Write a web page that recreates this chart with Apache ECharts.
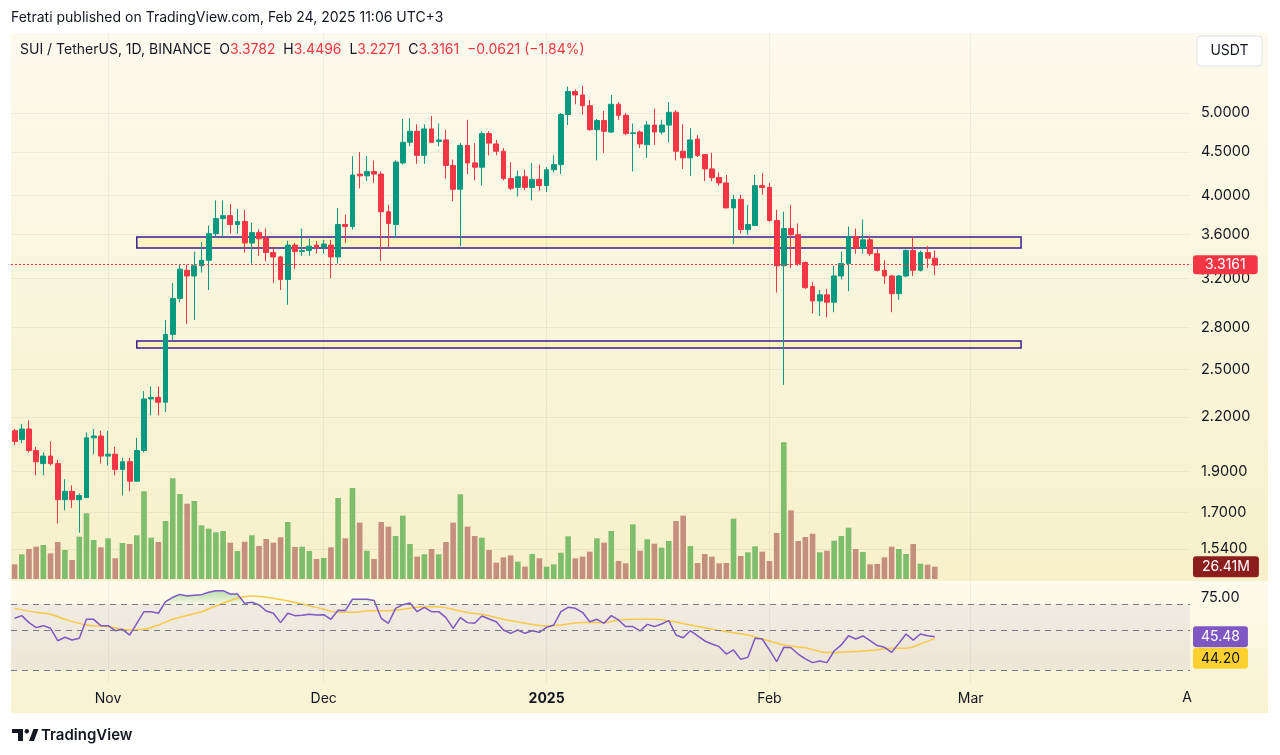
<!DOCTYPE html>
<html>
<head>
<meta charset="utf-8">
<title>SUI / TetherUS, 1D, BINANCE</title>
<script src="https://cdn.jsdelivr.net/npm/echarts@6/dist/echarts.min.js"></script>
<style>
html,body{margin:0;padding:0;background:#fff;}
#chart{width:1280px;height:755px;}
</style>
</head>
<body>
<div id="chart"></div>
<script>
// daily candles, 2024-10-19 .. 2025-02-24 (axis runs on to 2025-03-31)
var firstDay = '2024-10-19';
var dayCount = 164;

var opens = [2.12,2.07,2.13,2.01,1.94,1.98,1.94,1.76,1.80,1.76,
    1.77,2.08,2.09,1.98,1.99,1.91,1.95,1.85,2.01,2.31,
    2.32,2.29,2.75,3.03,3.27,3.22,3.31,3.36,3.61,3.76,
    3.79,3.70,3.73,3.52,3.62,3.57,3.43,3.39,3.19,3.50,
    3.44,3.45,3.50,3.48,3.50,3.39,3.70,3.68,4.24,4.22,
    4.27,4.24,3.83,3.70,4.37,4.62,4.76,4.46,4.79,4.63,
    4.65,4.34,4.07,4.58,4.37,4.32,4.73,4.60,4.51,4.19,
    4.09,4.21,4.09,4.18,4.11,4.29,4.35,4.98,5.30,5.25,
    5.10,4.78,4.90,4.75,5.12,4.97,4.73,4.75,4.59,4.84,
    4.75,4.84,5.01,4.51,4.43,4.66,4.47,4.30,4.20,4.14,
    3.87,3.96,3.65,3.69,4.11,4.09,3.74,3.31,3.66,3.60,
    3.34,3.13,3.01,3.06,3.00,3.22,3.33,3.58,3.47,3.55,
    3.42,3.27,3.22,3.07,3.22,3.45,3.27,3.43,3.3782];
var highs = [2.13,2.16,2.18,2.03,2.00,2.06,1.96,1.86,1.83,1.79,
    2.11,2.13,2.12,2.12,2.03,1.97,1.97,2.08,2.36,2.39,
    2.39,2.86,3.16,3.32,3.32,3.44,3.53,3.69,3.95,3.95,
    3.91,3.86,3.85,3.72,3.65,3.66,3.48,3.40,3.54,3.52,
    3.66,3.56,3.54,3.55,3.55,3.87,3.80,4.45,4.50,4.45,
    4.40,4.27,3.90,4.40,4.92,4.93,4.85,4.85,4.96,4.86,
    4.78,4.41,4.61,4.91,4.61,4.76,4.76,4.65,4.55,4.38,
    4.28,4.29,4.37,4.35,4.32,4.46,5.00,5.37,5.33,5.38,
    5.18,4.92,5.03,5.25,5.15,5.00,4.86,4.77,4.89,5.06,
    4.91,5.15,5.04,4.85,4.80,4.71,4.47,4.49,4.26,4.23,
    4.01,4.01,3.90,4.23,4.25,4.14,3.85,3.83,3.90,3.71,
    3.35,3.17,3.10,3.11,3.31,3.44,3.68,3.66,3.75,3.59,
    3.46,3.36,3.23,3.23,3.46,3.58,3.45,3.49,3.4496];
var lows = [2.04,2.05,2.00,1.88,1.88,1.93,1.65,1.71,1.72,1.61,
    1.77,1.99,1.94,1.93,1.88,1.78,1.80,1.85,2.00,2.21,
    2.21,2.23,2.71,3.00,2.83,2.86,3.25,3.10,3.58,3.58,
    3.61,3.61,3.43,3.33,3.40,3.35,3.16,3.10,2.98,3.28,
    3.40,3.40,3.42,3.42,3.20,3.33,3.52,3.65,4.08,4.16,
    4.14,3.35,3.48,3.57,4.35,4.57,4.36,4.36,4.61,4.57,
    4.19,3.94,3.49,4.24,4.17,4.11,4.46,4.46,4.17,4.06,
    3.99,4.06,3.95,4.05,4.04,4.26,4.24,4.84,5.12,4.98,
    4.77,4.40,4.49,4.74,4.91,4.71,4.27,4.55,4.43,4.59,
    4.72,4.62,4.40,4.30,4.22,4.44,4.16,4.16,4.11,3.87,
    3.51,3.61,3.60,3.69,4.01,3.73,3.08,2.40,3.29,3.31,
    3.11,2.91,2.89,2.88,2.92,3.19,3.09,3.42,3.42,3.40,
    3.26,3.15,2.92,3.02,3.21,3.22,3.26,3.29,3.2271];
var closes = [2.06,2.13,2.01,1.95,1.98,1.94,1.76,1.80,1.76,1.78,
    2.08,2.09,1.98,1.99,1.91,1.95,1.85,2.01,2.31,2.32,
    2.29,2.75,3.03,3.28,3.22,3.31,3.36,3.61,3.76,3.79,
    3.70,3.73,3.52,3.62,3.56,3.43,3.39,3.19,3.50,3.44,
    3.45,3.49,3.48,3.51,3.39,3.70,3.68,4.23,4.22,4.27,
    4.24,3.83,3.71,4.38,4.62,4.76,4.46,4.79,4.62,4.65,
    4.34,4.07,4.58,4.37,4.32,4.73,4.61,4.51,4.19,4.08,
    4.21,4.09,4.18,4.11,4.29,4.35,4.98,5.30,5.25,5.10,
    4.78,4.90,4.76,5.12,4.97,4.73,4.74,4.60,4.84,4.75,
    4.84,5.01,4.51,4.43,4.65,4.46,4.30,4.20,4.14,3.87,
    3.96,3.65,3.70,4.11,4.09,3.74,3.31,3.66,3.60,3.33,
    3.12,3.01,3.06,3.00,3.22,3.33,3.58,3.47,3.55,3.42,
    3.27,3.22,3.07,3.22,3.45,3.27,3.43,3.3782,3.3161];
// volume in millions
var volumes = [31.5,53.0,64.4,69.4,73.0,55.1,79.4,62.3,40.8,90.9,
    141.0,83.7,68.0,87.3,44.4,77.3,75.1,93.8,188.2,88.7,
    79.4,124.5,216.1,182.5,161.7,167.5,115.2,108.1,100.2,103.1,
    78.0,60.1,80.2,93.8,70.9,85.9,78.0,89.5,122.4,68.7,
    69.4,60.1,42.9,45.1,68.0,173.9,87.3,195.4,121.0,60.8,
    42.9,122.4,112.4,92.3,136.0,75.1,48.0,53.0,64.4,53.0,
    79.4,121.0,181.8,112.4,92.3,88.7,62.3,35.1,46.5,50.8,
    37.2,26.5,53.7,44.4,26.5,31.5,56.5,91.6,44.4,48.0,
    58.7,87.3,78.0,103.1,38.6,33.6,117.4,60.8,85.2,75.9,
    67.3,81.6,124.5,136.0,70.9,34.4,53.7,48.0,33.6,34.4,
    129.5,49.4,57.3,70.1,58.7,38.6,98.8,293.4,147.4,81.6,
    90.2,97.3,57.3,60.8,82.3,92.3,110.2,64.4,58.0,31.5,
    32.2,46.5,69.4,64.4,53.7,75.1,32.9,30.8,26.41];
var rsi = [59.4,61.4,56.1,52.3,53.8,51.8,42.4,45.0,42.9,44.2,
    58.6,58.6,53.8,53.8,50.0,51.0,46.7,55.6,64.4,64.4,
    63.2,72.0,75.3,77.5,76.3,76.8,77.3,79.1,80.3,80.3,
    77.8,77.8,70.7,71.5,69.5,64.9,63.2,56.1,63.2,61.4,
    61.6,62.4,61.9,62.1,58.6,65.4,65.2,73.8,73.8,73.8,
    72.8,59.4,55.6,66.9,69.7,71.0,64.4,67.7,64.4,64.4,
    59.9,51.8,59.9,56.1,55.6,61.1,58.8,56.8,50.5,48.0,
    50.5,48.0,50.0,48.8,52.5,54.3,64.4,67.7,66.9,63.9,
    56.8,58.6,55.6,61.4,58.1,53.1,53.1,49.8,54.8,53.1,
    55.1,57.6,46.7,44.7,50.0,46.0,42.2,39.9,37.9,32.3,
    35.4,28.3,29.8,44.2,43.7,35.4,26.5,37.4,37.1,32.3,
    28.6,25.8,27.0,25.8,34.6,39.2,46.2,43.7,46.0,42.4,
    38.7,37.4,33.6,40.4,47.5,42.9,47.5,46.2,45.48];
// RSI moving average, read at points along the curve: [day index, value]
var rsiMa = [[0,66.9],[3,63.9],[5,62.4],[7,58.6],[10,54.3],[13,53.1],[16,50.5],[18,51.0],
    [20,54.3],[22,58.6],[26,64.4],[28,68.7],[31,74.5],[33,76.3],[36,74.5],[40,70.2],
    [43,66.2],[45,63.9],[47,63.9],[49,64.9],[52,65.2],[54,66.2],[57,68.2],[59,68.2],
    [60,67.4],[63,63.7],[65,62.4],[68,58.6],[71,55.6],[74,53.6],[76,54.3],[79,56.1],
    [82,56.1],[84,58.1],[86,58.6],[89,58.6],[91,57.6],[94,54.3],[96,52.3],[99,49.3],
    [102,46.7],[105,42.2],[107,39.2],[110,37.1],[113,33.4],[115,33.6],[119,34.9],
    [122,36.6],[124,36.6],[126,39.9],[128,44.20]];

var priceTicks = [1.54,1.7,1.9,2.2,2.5,2.8,3.2,3.6,4.0,4.5,5.0];
var rsiTicks = [75];
var rsiBands = [70,50,20];
var monthLabels = {'2024-11-01':'Nov','2024-12-01':'Dec','2025-01-01':'2025','2025-02-01':'Feb','2025-03-01':'Mar'};
// the two drawn zones: [top, bottom] price, [from, to] day
var zoneHigh = [3.578,3.473];
var zoneLow = [2.701,2.651];
var zoneDays = ['2024-11-05','2025-03-08'];
var lastVolume = 26.41;

(function(window){
    function buildDays(start, n){
        var out = [], d = new Date(start + 'T00:00:00Z');
        for(var i = 0; i < n; i++){
            out.push(d.toISOString().slice(0,10));
            d.setUTCDate(d.getUTCDate() + 1);
        }
        return out;
    }
    function grad(c1, c2){
        return new echarts.graphic.LinearGradient(0,0,0,1,[{offset:0,color:c1},{offset:1,color:c2}]);
    }
    // invisible line that only carries a value badge on the right scale
    function badge(value, text, bg, fg, pad, shiftDown){
        var lbl = {show:true, position:'end', distance:3, fontSize:14, fontFamily:font};
        if(shiftDown){
            lbl.padding = [shiftDown * 2, 0, 0, 0];
            lbl.formatter = '{b|' + text + '}';
            lbl.rich = {b:{backgroundColor:bg, color:fg, padding:pad, borderRadius:3, fontSize:14, fontFamily:font}};
        }else{
            lbl.formatter = text;
            lbl.backgroundColor = bg;
            lbl.color = fg;
            lbl.padding = pad;
            lbl.borderRadius = 3;
        }
        return {yAxis:value, lineStyle:{color:'rgba(0,0,0,0)', width:0}, label:lbl};
    }

    var days = buildDays(firstDay, dayCount),
        upColor = '#089981',
        downColor = '#f23645',
        textColor = '#131722',
        font = 'Inter, "Noto Sans", sans-serif',
        n = closes.length,
        candles = [], volBars = [], obBase = [], obFill = [];

    for(var i = 0; i < n; i++){
        candles.push([opens[i], closes[i], lows[i], highs[i]]);
        volBars.push({value: volumes[i], itemStyle:{color: closes[i] >= opens[i] ? '#7dbd6c' : '#c58f7e'}});
        obBase.push(70);
        obFill.push(Math.max(0, rsi[i] - 70));
    }

    var last = n - 1,
        chg = closes[last] - closes[last-1],
        pct = chg / closes[last-1] * 100,
        sign = function(v){ return (v < 0 ? '\u2212' : '+') + Math.abs(v); };
    var legendText = 'SUI / TetherUS, 1D, BINANCE  {k|O}{v|' + opens[last].toFixed(4) + '}  {k|H}{v|' + highs[last].toFixed(4) +
        '}  {k|L}{v|' + lows[last].toFixed(4) + '}  {k|C}{v|' + closes[last].toFixed(4) + '}  {v|' +
        sign(+chg.toFixed(4)) + ' (' + sign(+pct.toFixed(2)) + '%)}';
    var maLast = rsiMa[rsiMa.length-1][1];

    // vertical month lines
    var monthLines = Object.keys(monthLabels).map(function(d){
        return {xAxis: d, lineStyle:{color:'rgba(42,46,57,0.06)', type:'solid', width:1}, label:{show:false}};
    });

    var option = {
        animation: false,
        backgroundColor: '#ffffff',
        textStyle: {fontFamily: font},
        title: [{
            text: 'Fetrati published on TradingView.com, Feb 24, 2025 11:06 UTC+3',
            left: 11, top: 11, padding: 0,
            textStyle: {fontSize: 14, fontWeight: 'normal', color: textColor, fontFamily: font}
        },{
            text: legendText,
            left: 20, top: 43, padding: 0,
            textStyle: {fontSize: 14, fontWeight: 'normal', color: textColor, fontFamily: font,
                rich: {k:{fontSize:14, color:textColor, fontFamily:font}, v:{fontSize:14, color:downColor, fontFamily:font}}}
        }],
        graphic: [
            {type:'rect', z:-10, silent:true, shape:{x:11, y:33, width:1257, height:548}, style:{fill: grad('#fcfaed','#f7f0ca')}},
            {type:'rect', z:-10, silent:true, shape:{x:11, y:581, width:1257, height:132}, style:{fill: grad('#fdfbec','#f8f2d0')}},
            {type:'rect', z:10, shape:{x:1197, y:36, width:65, height:30, r:4}, style:{fill:'#ffffff', stroke:'#e0e3eb', lineWidth:1}},
            {type:'text', z:11, style:{x:1229.5, y:51, text:'USDT', fill:textColor, font:'14px ' + font, textAlign:'center', textVerticalAlign:'middle'}},
            {type:'text', z:11, style:{x:1187, y:698, text:'A', fill:textColor, font:'14px ' + font, textAlign:'center', textVerticalAlign:'middle'}},
            // TradingView logo
            {type:'polygon', shape:{points:[[12,729],[23,729],[23,741],[18,741],[18,733],[12,733]]}, style:{fill:textColor}},
            {type:'circle', shape:{cx:26.8, cy:731.2, r:2.2}, style:{fill:textColor}},
            {type:'polygon', shape:{points:[[29,741],[33.5,729],[38.5,729],[34,741]]}, style:{fill:textColor}},
            {type:'text', style:{x:41, y:735, text:'TradingView', fill:textColor, font:'600 15px ' + font, textVerticalAlign:'middle'}}
        ],
        grid: [
            {left:11, right:90, top:33, height:547},
            {left:11, right:90, top:279, height:300},
            {left:11, right:90, top:580.5, height:103}
        ],
        xAxis: [
            {type:'category', gridIndex:0, data:days, show:false, boundaryGap:true},
            {type:'category', gridIndex:1, data:days, show:false, boundaryGap:true},
            {type:'category', gridIndex:2, data:days, boundaryGap:true,
                axisLine:{show:false}, axisTick:{show:false}, splitLine:{show:false},
                axisLabel:{
                    interval: function(idx, v){ return monthLabels.hasOwnProperty(v); },
                    formatter: function(v){ return v === '2025-01-01' ? '{y|2025}' : monthLabels[v]; },
                    color:textColor, fontSize:14, margin:8, fontFamily:font,
                    rich:{y:{fontWeight:'bold', fontSize:14, color:textColor, fontFamily:font}}
                }}
        ],
        yAxis: [
            {type:'log', logBase:10, gridIndex:0, position:'right', min:1.4168, max:6.2065,
                axisLine:{show:false},
                axisTick:{show:false, customValues:priceTicks},
                axisLabel:{customValues:priceTicks, formatter:function(v){ return (+v).toFixed(4); },
                    color:textColor, fontSize:14.5, margin:11, fontFamily:font},
                splitLine:{show:true, lineStyle:{color:'rgba(42,46,57,0.06)'}}},
            {type:'value', gridIndex:1, min:0, max:644, show:false, splitLine:{show:false}},
            {type:'value', gridIndex:2, position:'right', min:10, max:88,
                axisLine:{show:false},
                axisTick:{show:false, customValues:rsiTicks},
                axisLabel:{customValues:rsiTicks, formatter:function(v){ return (+v).toFixed(2); },
                    color:textColor, fontSize:14.5, margin:11, fontFamily:font},
                splitLine:{show:false}}
        ],
        series: [{
            name:'Volume', type:'bar', xAxisIndex:1, yAxisIndex:1, z:1,
            barWidth:'78%', data:volBars,
            markLine:{
                silent:true, symbol:['none','none'],
                data:[badge(lastVolume, lastVolume.toFixed(2) + 'M', '#8c1d1d', '#ffffff', [4,9,3,9])]
            }
        },{
            name:'SUIUSDT', type:'candlestick', xAxisIndex:0, yAxisIndex:0, z:3,
            barWidth:'74%', data:candles,
            itemStyle:{color:upColor, color0:downColor, borderColor:upColor, borderColor0:downColor, borderWidth:1},
            markArea:{
                silent:true,
                itemStyle:{color:'rgba(255,236,80,0.22)', borderColor:'#3a1d96', borderWidth:1.5},
                data:[
                    [{xAxis:zoneDays[0], yAxis:zoneHigh[0]}, {xAxis:zoneDays[1], yAxis:zoneHigh[1]}],
                    [{xAxis:zoneDays[0], yAxis:zoneLow[0]}, {xAxis:zoneDays[1], yAxis:zoneLow[1]}]
                ]
            },
            markLine:{
                silent:true, symbol:['none','none'],
                data:[{yAxis:closes[last], lineStyle:{color:downColor, type:[2,2], width:1},
                    label:{show:true, position:'end', distance:3, formatter:closes[last].toFixed(4),
                        backgroundColor:downColor, color:'#ffffff', padding:[3,12,2,12], borderRadius:3, fontSize:14, fontFamily:font}}
                ].concat(monthLines)
            }
        },{
            name:'RSI', type:'line', xAxisIndex:2, yAxisIndex:2, z:4,
            data:rsi, symbol:'none', lineStyle:{color:'#7e57c2', width:1.5}, itemStyle:{color:'#7e57c2'},
            markArea:{silent:true, itemStyle:{color:'rgba(126,87,194,0.09)'},
                data:[[{yAxis:rsiBands[2]}, {yAxis:rsiBands[0]}]]},
            markLine:{
                silent:true, symbol:['none','none'],
                data: rsiBands.map(function(b){
                    return {yAxis:b, lineStyle:{color:'#787b86', type:[6,5], width:1}, label:{show:false}};
                }).concat(monthLines).concat([badge(rsi[last], rsi[last].toFixed(2), '#7e57c2', '#ffffff', [4,8,3,8])])
            }
        },{
            name:'RSI MA', type:'line', xAxisIndex:2, yAxisIndex:2, z:3,
            data:rsiMa, symbol:'none', smooth:0.4, lineStyle:{color:'#f7c948', width:1.5}, itemStyle:{color:'#f7c948'},
            markLine:{
                silent:true, symbol:['none','none'],
                data:[badge(maLast, maLast.toFixed(2), '#fcd02f', textColor, [4,8,3,8], 20)]
            }
        },{
            name:'obBase', type:'line', xAxisIndex:2, yAxisIndex:2, stack:'ob', silent:true,
            data:obBase, symbol:'none', lineStyle:{width:0, opacity:0}
        },{
            name:'obFill', type:'line', xAxisIndex:2, yAxisIndex:2, stack:'ob', silent:true, z:2,
            data:obFill, symbol:'none', lineStyle:{width:0, opacity:0},
            areaStyle:{color: grad('rgba(76,175,80,0.55)','rgba(76,175,80,0.05)')}
        }]
    };

    var chart = echarts.init(document.getElementById('chart'));
    chart.setOption(option);
})(window);
</script>
</body>
</html>
